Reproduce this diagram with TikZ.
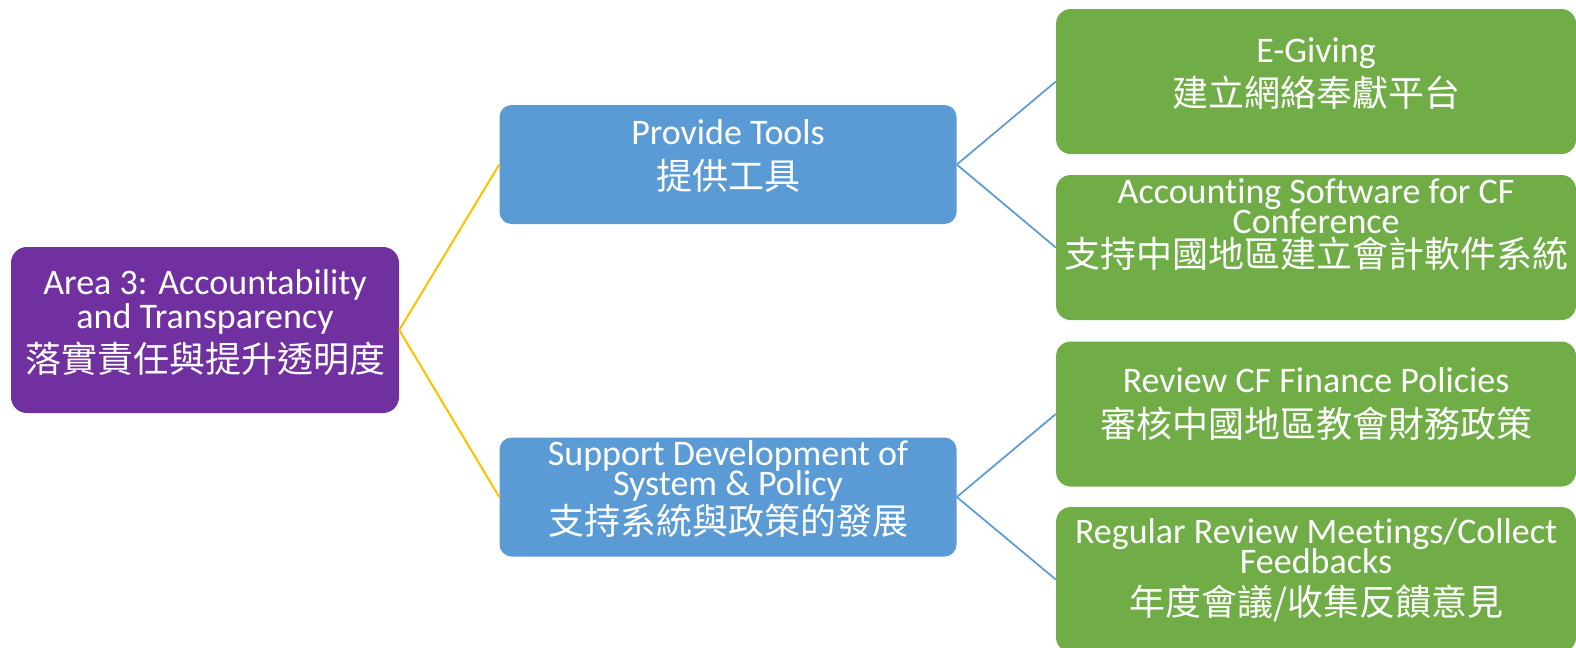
\documentclass[tikz,border=0pt]{standalone}
\usepackage{fontspec}
\setmainfont{Carlito}[Ligatures=CommonOff]
\newfontfamily\cjk{Noto Sans CJK TC}[Scale=1.0]
\usepackage{xcolor}
\usepackage{tikz}
\usetikzlibrary{positioning}
\definecolor{areaPurple}{HTML}{7030A0}
\definecolor{goalBlue}{HTML}{5B9BD5}
\definecolor{taskGreen}{HTML}{70AD47}
\definecolor{lineYellow}{HTML}{FFC000}
\tikzset{box-node/.style={inner sep=0, text=white, font=\fontsize{27}{23}\selectfont}}
\tikzset{area-node/.style={box-node, fill=areaPurple, rounded corners=12pt}}
\tikzset{goal-node/.style={box-node, fill=goalBlue, rounded corners=9pt}}
\tikzset{task-node/.style={box-node, fill=taskGreen, rounded corners=11pt}}
\tikzset{area-line/.style={draw=lineYellow, line width=1.5pt}}
\tikzset{goal-line/.style={draw=goalBlue, line width=1.3pt}}
% width, height, first baseline, lines
\newcommand{\boxtext}[4]{\parbox[c][#2][t]{#1}{\centering\lineskiplimit=-50pt\rule{0pt}{#3}#4}}

\begin{document}
\begin{tikzpicture}[x=0.75pt, y=-0.75pt]
    \useasboundingbox (0,0) rectangle (1576,647);

    \node[area-node] (area) at (205,330)
        {\boxtext{291pt}{124.5pt}{35.25pt}{Area 3: Accountability\\[2.5pt]and Transparency\\[10.4pt]{\cjk 落實責任與提升透明度}}};

    \node[goal-node, right=75pt of area, yshift=124.1pt] (goal1)
        {\boxtext{342.75pt}{89.25pt}{29.25pt}{Provide Tools\\[11.1pt]{\cjk 提供工具}}};
    \node[goal-node, right=75pt of area, yshift=-125.25pt] (goal2)
        {\boxtext{342.75pt}{89.25pt}{21pt}{Support Development of\\[-0.5pt]System \& Policy\\[6.6pt]{\cjk 支持系統與政策的發展}}};

    \node[task-node, right=74.25pt of goal1, yshift=62.25pt] (task11)
        {\boxtext{390pt}{108.75pt}{39.75pt}{E-Giving\\[10.4pt]{\cjk 建立網絡奉獻平台}}\hspace{18pt}};
    \node[task-node, right=74.25pt of goal1, yshift=-62.25pt] (task12)
        {\boxtext{390pt}{108.75pt}{21pt}{Accounting Software for CF\\[-0.5pt]Conference\\[2.9pt]{\cjk 支持中國地區建立會計軟件系統}}\hspace{18pt}};
    \node[task-node, right=74.25pt of goal2, yshift=62.25pt] (task21)
        {\boxtext{390pt}{108.75pt}{38.25pt}{Review CF Finance Policies\\[11.1pt]{\cjk 審核中國地區教會財務政策}}\hspace{18pt}};
    \node[task-node, right=74.25pt of goal2, yshift=-61.9pt] (task22)
        {\boxtext{390pt}{108.75pt}{27pt}{Regular Review Meetings/Collect\\[-0.5pt]Feedbacks\\[8.9pt]{\cjk 年度會議/收集反饋意見}}\hspace{18pt}};

    \draw[area-line] (area.east) -- (goal1.west);
    \draw[area-line] (area.east) -- (goal2.west);
    \draw[goal-line] (goal1.east) -- (task11.west);
    \draw[goal-line] (goal1.east) -- (task12.west);
    \draw[goal-line] (goal2.east) -- (task21.west);
    \draw[goal-line] (goal2.east) -- (task22.west);
\end{tikzpicture}
\end{document}
